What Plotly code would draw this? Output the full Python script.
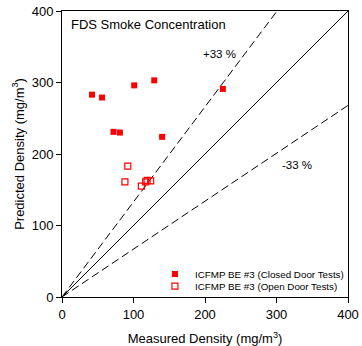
# FDS smoke concentration: predicted vs measured density.

import plotly.graph_objects as go

closed_measured = [42, 56, 101, 129, 225, 72, 81, 140]
closed_predicted = [283, 279, 296, 303, 291, 231, 230, 224]

open_measured = [92, 88, 111, 117, 119, 124]
open_predicted = [183, 161, 155, 161, 163, 162.5]

ref_x = [0, 400]
exact_y = [0, 400]
upper_x = [0, 300.75]
upper_y = [0, 400]
lower_y = [0, 268]

axis_ticks = [0, 100, 200, 300, 400]

font = "Liberation Sans, Arial, sans-serif"

fig = go.Figure()

fig.add_trace(go.Scatter(x=ref_x, y=exact_y, mode="lines", showlegend=False,
                         line=dict(color="black", width=1)))
fig.add_trace(go.Scatter(x=upper_x, y=upper_y, mode="lines", showlegend=False,
                         line=dict(color="black", width=1, dash="8px,4px")))
fig.add_trace(go.Scatter(x=ref_x, y=lower_y, mode="lines", showlegend=False,
                         line=dict(color="black", width=1, dash="8px,4px")))

fig.add_trace(go.Scatter(
    x=closed_measured, y=closed_predicted, mode="markers",
    name="ICFMP BE #3 (Closed Door Tests)", legend="legend",
    marker=dict(symbol="square", size=6, color="#ff0000"),
))
fig.add_trace(go.Scatter(
    x=open_measured, y=open_predicted, mode="markers",
    name="ICFMP BE #3 (Open Door Tests)", legend="legend2",
    marker=dict(symbol="square-open", size=6, color="#ff0000", line=dict(width=1.2)),
))

axis_style = dict(
    range=[0, 400], tickvals=axis_ticks, showgrid=False, zeroline=False,
    showline=True, linecolor="black", linewidth=1, mirror=True,
    ticks="outside", ticklen=5, tickcolor="black", automargin=False,
    tickfont=dict(size=13, color="black"),
)

legend_style = dict(xanchor="left", yanchor="middle", bgcolor="rgba(0,0,0,0)",
                    font=dict(size=9.8), itemwidth=30, borderwidth=0)

fig.update_layout(
    width=362, height=346,
    margin=dict(l=62, r=14, t=11, b=49, autoexpand=False),
    paper_bgcolor="white", plot_bgcolor="white",
    font=dict(family=font, color="black"),
    xaxis=dict(title=dict(text="Measured Density (mg/m<sup>3</sup>)", font=dict(size=13)),
               **axis_style),
    yaxis=dict(title=dict(text="Predicted Density (mg/m<sup>3</sup>)", font=dict(size=13),
                          standoff=4),
               **axis_style),
    legend=dict(x=0.325, y=0.08, **legend_style),
    legend2=dict(x=0.325, y=0.038, **legend_style),
    annotations=[
        dict(x=0.025, y=0.985, xref="paper", yref="paper", xanchor="left", yanchor="top",
             text="FDS Smoke Concentration", showarrow=False, font=dict(size=13)),
        dict(x=220, y=340, text="+33 %", showarrow=False, font=dict(size=11.5)),
        dict(x=329, y=185, text="-33 %", showarrow=False, font=dict(size=11.5)),
    ],
)

# drop the default 8px body margin so the figure fills the window
fig.write_html("out.html", config={"displayModeBar": False},
               post_script="document.body.style.margin = '0';")
